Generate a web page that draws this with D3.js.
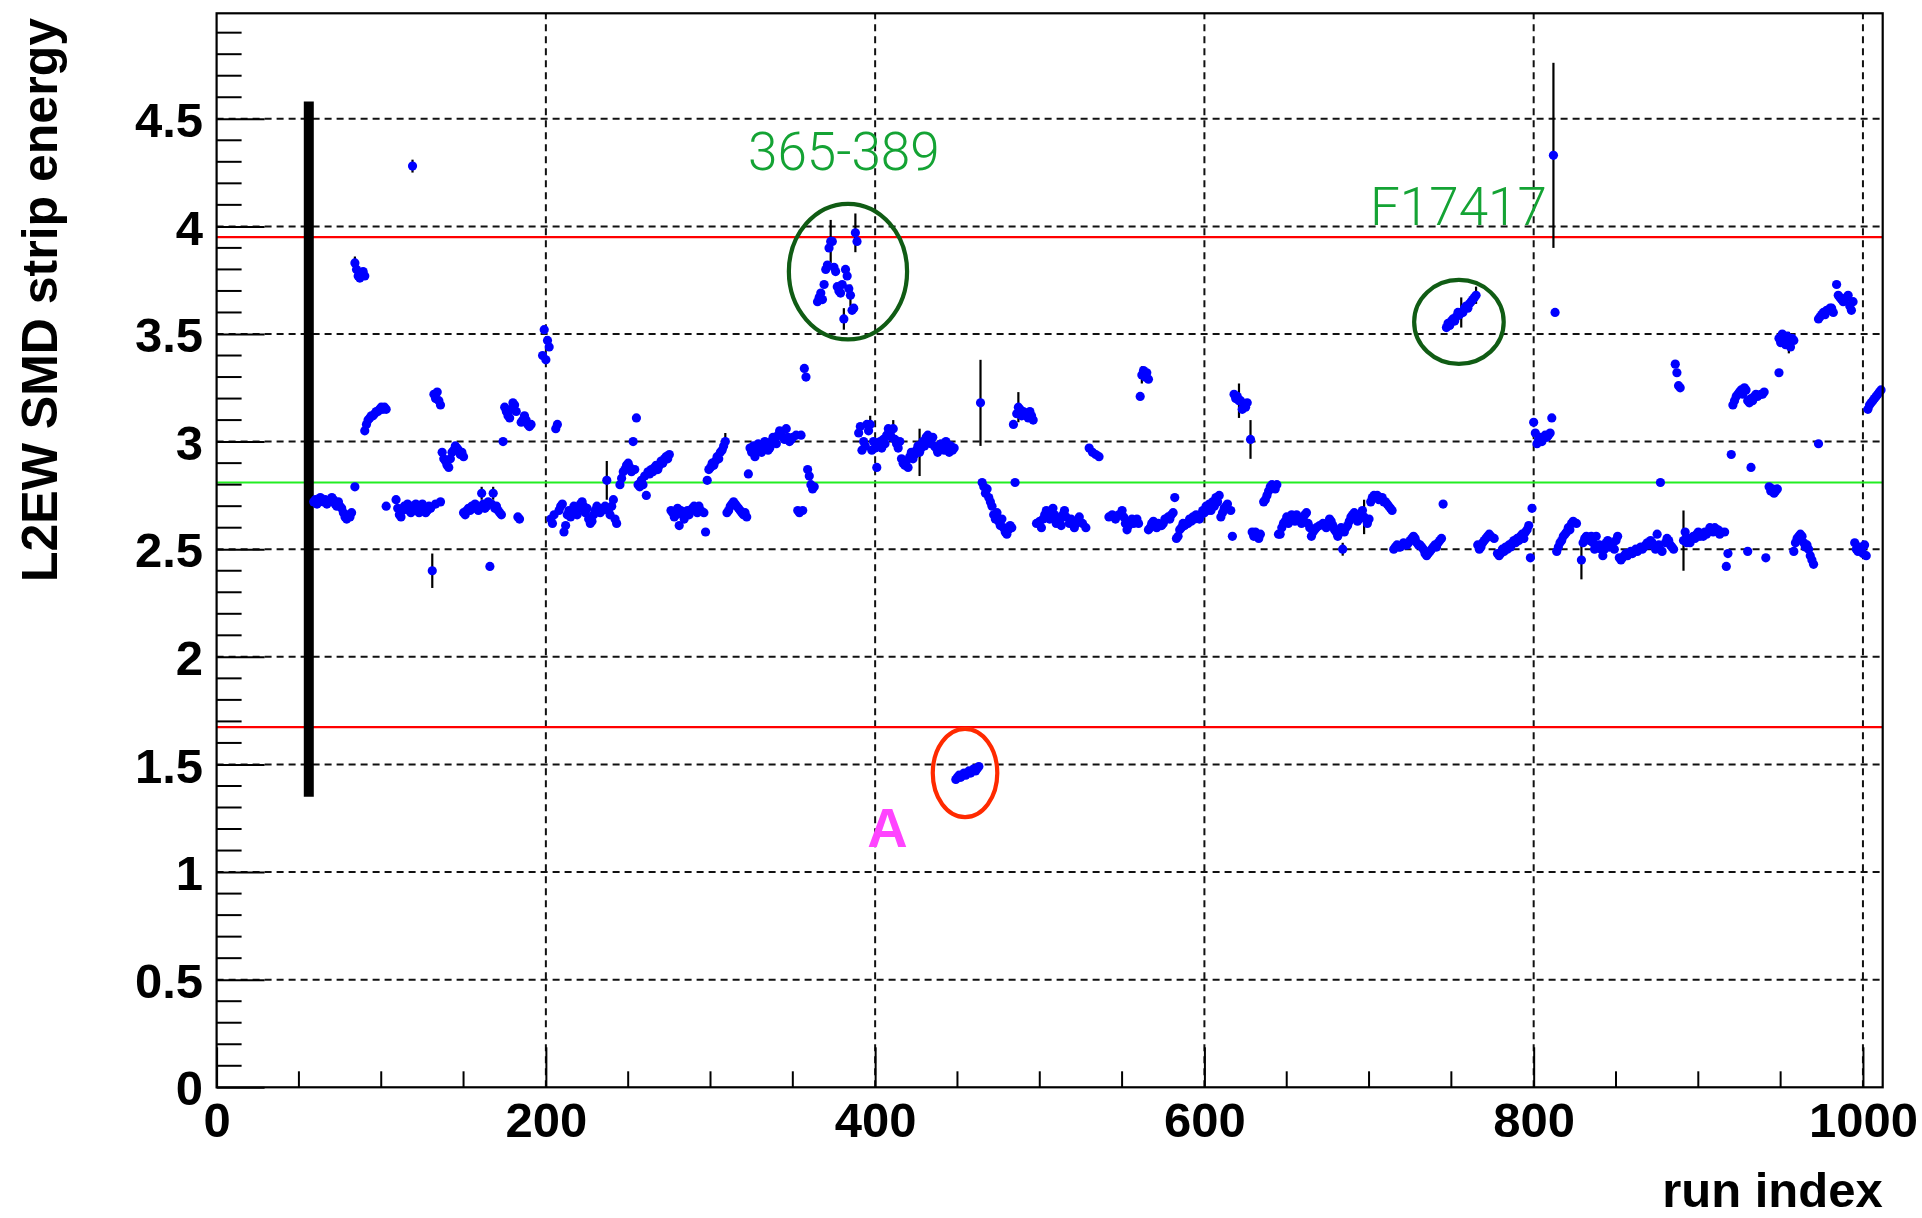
<!DOCTYPE html>
<html><head><meta charset="utf-8">
<script src="https://cdn.jsdelivr.net/npm/d3@7"></script>
<style>body{margin:0;background:#fff}svg{display:block}</style>
</head><body>
<script>
// ---------- data ----------
const xMajorTicks = [0, 200, 400, 600, 800, 1000];
const yMajorTicks = [0, 0.5, 1, 1.5, 2, 2.5, 3, 3.5, 4, 4.5];
const xTitle = "run index";
const yTitle = "L2EW SMD strip energy";

// [run index, energy]
const points = [
[59,2.72],[60,2.73],[61,2.71],[62,2.72],[63,2.74],[64,2.73],[65,2.72],[66,2.73],[67,2.71],[68,2.72],[70,2.74],[71,2.73],[72,2.71],[73,2.70],[74,2.72],[75,2.70],[76,2.69],[77,2.67],[78,2.65],[79,2.64],[80,2.66],[81,2.65],[82,2.67],[84,2.79],
[85,3.80],[86,3.77],[87,3.76],[88,3.78],[89,3.79],[90,3.77],
[90,3.05],[91,3.08],[92,3.10],[93,3.11],[94,3.12],[95,3.12],[96,3.13],[97,3.14],[98,3.14],[99,3.15],[100,3.16],[101,3.15],[102,3.16],[103,3.15],
[103,2.70],
[109,2.73],[110,2.69],[111,2.66],[112,2.65],[113,2.68],[114,2.70],[115,2.69],[116,2.71],[117,2.68],[118,2.67],[119,2.70],[120,2.69],[121,2.71],[122,2.68],[123,2.67],[124,2.70],[125,2.71],[126,2.69],[127,2.67],[128,2.68],[129,2.70],[130,2.69],[133,2.71],[136,2.72],
[132,3.22],[133,3.20],[134,3.23],[135,3.19],[136,3.17],
[137,2.95],[138,2.92],[139,2.91],[140,2.89],[141,2.88],[142,2.92],[143,2.95],[144,2.96],[145,2.98],[146,2.97],[147,2.96],[148,2.94],[149,2.95],[150,2.93],
[150,2.67],[151,2.66],[152,2.68],[153,2.69],[154,2.68],[155,2.70],[156,2.69],[157,2.71],[158,2.70],[159,2.68],[160,2.69],[162,2.71],[163,2.69],[164,2.70],[165,2.72],[166,2.42],[167,2.71],[169,2.69],[170,2.70],[171,2.68],[172,2.67],[173,2.66],
[174,3.00],[175,3.16],[176,3.14],[177,3.12],[178,3.11],[179,3.15],[180,3.18],[181,3.17],[182,3.14],[185,3.09],[186,3.10],[187,3.12],[188,3.10],[189,3.08],[190,3.07],[191,3.08],
[183,2.65],[184,2.64],
[198,3.40],[199,3.52],[200,3.38],[201,3.47],[202,3.44],
[206,3.06],[207,3.08],
[203,2.64],[204,2.62],[205,2.66],[208,2.68],[209,2.70],[210,2.71],[211,2.58],[212,2.61],[213,2.66],[214,2.68],[215,2.65],[216,2.67],[217,2.70],[218,2.68],[219,2.66],[220,2.69],[221,2.71],[222,2.72],[223,2.70],[224,2.67],[225,2.69],[226,2.64],[227,2.62],[228,2.63],[229,2.66],[230,2.68],[231,2.70],[232,2.69],[233,2.67],[234,2.68],[235,2.69],[236,2.70],[238,2.68],[239,2.66],[240,2.70],[241,2.73],[242,2.64],[243,2.62],
[245,2.80],[246,2.83],[247,2.86],[248,2.87],[249,2.89],[250,2.90],[251,2.88],[252,2.86],[253,3.00],[254,2.87],[255,3.11],[256,2.80],[257,2.79],
[258,2.82],[259,2.80],[260,2.84],[261,2.75],[262,2.86],[263,2.85],[264,2.87],[265,2.86],[266,2.88],[267,2.89],[268,2.87],[269,2.89],[270,2.91],[271,2.90],[272,2.92],[273,2.93],[274,2.92],[275,2.94],
[276,2.68],[277,2.67],[278,2.65],[279,2.66],[280,2.69],[281,2.61],[282,2.68],[283,2.66],[284,2.64],[285,2.67],[286,2.68],[287,2.66],[288,2.68],[289,2.69],[290,2.70],[291,2.69],[292,2.67],[293,2.70],[294,2.68],[296,2.67],[297,2.58],
[298,2.82],[299,2.87],[300,2.88],[301,2.90],[302,2.89],[303,2.91],[304,2.93],[305,2.92],[306,2.95],[307,2.96],[308,2.98],
[310,2.67],[311,2.68],[312,2.70],[313,2.71],[314,2.72],[315,2.71],[316,2.70],[317,2.69],[318,2.68],[319,2.67],[320,2.66],[321,2.67],[322,2.65],
[323,2.85],
[324,2.97],[325,2.95],[326,2.98],[327,2.93],[328,2.96],[329,2.99],[330,2.97],[331,2.95],[332,2.98],[333,3.00],[334,2.99],[335,2.96],[336,2.97],[337,3.00],[338,3.02],[339,3.01],[340,2.99],[341,3.03],[342,3.05],[343,3.04],[344,3.02],[345,3.01],[346,3.06],[347,3.02],[348,3.00],[349,3.01],[350,3.02],[352,3.03],[355,3.03],
[353,2.68],[354,2.67],[356,2.68],
[357,3.34],[358,3.30],
[359,2.87],[360,2.84],[361,2.80],[362,2.78],[363,2.79],
[365,3.65],[366,3.67],[367,3.69],[368,3.66],[369,3.73],[370,3.80],[371,3.82],[372,3.90],[374,3.93],[375,3.81],[376,3.79],[377,3.72],[378,3.70],[379,3.69],[380,3.73],[382,3.80],[383,3.77],[384,3.71],[386,3.61],[387,3.62],[389,3.93],
[390,3.04],[391,3.07],[392,2.96],[393,3.00],[394,2.98],[395,3.08],[396,3.05],[398,2.96],[399,3.00],[400,2.97],[401,2.88],[402,2.98],[403,3.00],[404,2.97],[405,3.01],[406,2.99],[407,3.03],[408,3.06],[409,3.04],[410,3.02],[412,3.01],[413,2.99],[414,2.97],[415,3.00],
[416,2.92],[417,2.90],[418,2.89],[419,2.91],[420,2.88],[421,2.93],[422,2.95],[423,2.92],[424,2.94],[425,2.96],[426,2.98],[428,2.97],[429,3.00],[430,2.98],[431,3.02],[432,3.03],[433,3.01],[434,2.99],[435,3.02],[436,2.98],[437,2.97],[438,2.95],[439,2.97],[440,2.99],[441,2.98],[442,2.96],[443,3.00],[444,2.97],[445,2.95],[446,2.98],[447,2.96],[448,2.97],
[449,1.43],[450,1.44],[451,1.45],[452,1.44],[453,1.45],[454,1.46],[455,1.45],[456,1.46],[457,1.47],[458,1.46],[459,1.47],[460,1.48],[461,1.47],[462,1.48],[463,1.49],
[465,2.81],[466,2.79],[467,2.76],[468,2.78],[469,2.74],[470,2.72],[471,2.70],[472,2.66],[473,2.64],[474,2.67],[475,2.63],[476,2.61],[477,2.64],[478,2.60],[479,2.58],[480,2.57],[481,2.59],[482,2.61],[483,2.60],
[485,2.81],
[484,3.08],[486,3.13],[488,3.15],[489,3.12],[490,3.14],[491,3.13],[492,3.12],[493,3.11],[494,3.14],[495,3.12],[496,3.10],
[498,2.62],[500,2.63],[501,2.60],[502,2.64],[503,2.66],[504,2.68],[505,2.65],[506,2.64],[507,2.67],[508,2.69],[509,2.66],[510,2.62],[511,2.64],[512,2.63],[513,2.61],[514,2.66],[515,2.68],[516,2.65],[518,2.62],[519,2.64],[520,2.63],[521,2.60],[522,2.62],[524,2.65],[526,2.62],[528,2.60],
[530,2.97],[532,2.95],[534,2.94],[536,2.93],
[542,2.65],[544,2.66],[546,2.64],[548,2.66],[550,2.68],[551,2.65],[552,2.62],[553,2.59],[554,2.61],[555,2.63],[556,2.64],[557,2.62],[558,2.63],[559,2.64],[560,2.62],
[561,3.21],[563,3.33],[564,3.30],[565,3.32],[566,3.29],
[566,2.59],[567,2.60],[568,2.62],[569,2.63],[570,2.61],[571,2.60],[572,2.62],[573,2.61],[574,2.61],[575,2.62],[576,2.64],[577,2.64],[578,2.65],[579,2.64],[580,2.66],[581,2.67],
[582,2.74],
[583,2.55],[584,2.56],[585,2.59],[586,2.60],[587,2.62],[588,2.61],[589,2.62],[590,2.62],[591,2.64],[592,2.63],[593,2.65],[594,2.64],[595,2.66],[596,2.65],[597,2.64],[598,2.66],[599,2.68],[600,2.67],[601,2.70],[602,2.68],[603,2.71],[604,2.68],[605,2.72],[606,2.70],[607,2.74],[608,2.72],[609,2.75],[610,2.65],[611,2.67],[612,2.69],[613,2.70],[614,2.71],[616,2.68],[617,2.56],
[618,3.22],[619,3.20],[620,3.21],[622,3.19],[623,3.15],[624,3.17],[625,3.16],[626,3.18],
[629,2.58],[630,2.56],[631,2.58],[633,2.55],[634,2.57],
[636,2.72],[637,2.73],[638,2.75],[639,2.77],[640,2.79],[641,2.80],[642,2.79],[643,2.78],[644,2.80],
[645,2.57],[646,2.57],[647,2.60],[648,2.62],[649,2.63],[650,2.65],[651,2.62],[652,2.64],[653,2.66],[654,2.65],[655,2.63],[656,2.66],[657,2.65],[658,2.64],[659,2.62],[660,2.64],[661,2.66],[662,2.67],[663,2.62],[664,2.60],[665,2.56],[666,2.58],[667,2.59],[668,2.60],[670,2.61],[672,2.62],
[674,2.60],[675,2.62],[676,2.64],[677,2.63],[678,2.61],[679,2.59],[680,2.58],[681,2.56],[682,2.58],[683,2.60],[685,2.58],[686,2.60],[687,2.61],[688,2.63],[689,2.65],[690,2.66],[691,2.67],[692,2.65],[693,2.63],[694,2.64],[695,2.66],[696,2.68],[698,2.64],[699,2.62],[700,2.64],
[701,2.72],[702,2.74],[703,2.75],[704,2.74],[705,2.75],[706,2.73],[707,2.74],[708,2.74],[709,2.72],[710,2.72],[711,2.71],[712,2.70],[713,2.69],[714,2.68],
[715,2.50],[716,2.51],[717,2.52],[718,2.51],[719,2.51],[720,2.52],[721,2.53],[722,2.52],[723,2.52],[724,2.53],[725,2.54],[726,2.55],[727,2.56],[728,2.55],[729,2.53],[730,2.52],[731,2.52],[732,2.51],[733,2.50],[734,2.48],[735,2.47],[736,2.48],[737,2.49],[738,2.50],[739,2.51],[740,2.52],[741,2.51],[742,2.53],[743,2.54],[744,2.55],[745,2.71],
[747,3.53],[748,3.55],[749,3.54],[750,3.56],[751,3.57],[752,3.56],[753,3.58],[754,3.60],[755,3.59],[757,3.60],[758,3.62],[759,3.63],[760,3.62],[761,3.64],[762,3.65],[763,3.66],[764,3.67],
[766,2.52],[767,2.50],[768,2.51],[769,2.53],[770,2.54],[771,2.55],[772,2.56],[773,2.57],[774,2.56],[776,2.55],[778,2.48],[779,2.47],[780,2.48],[781,2.50],[782,2.49],[783,2.51],[784,2.50],[785,2.52],[786,2.51],[787,2.53],[788,2.54],[789,2.53],[790,2.55],[791,2.54],[792,2.56],[793,2.57],[794,2.55],[795,2.58],[796,2.59],[797,2.61],[798,2.46],[799,2.69],
[800,3.09],[801,3.04],[802,2.99],[803,3.01],[804,3.02],[805,3.00],[806,3.02],[807,3.03],[808,3.02],[809,3.03],[810,3.04],[811,3.11],
[813,3.60],
[814,2.49],[815,2.51],[816,2.53],[817,2.54],[818,2.56],[819,2.57],[820,2.58],[821,2.60],[822,2.59],[823,2.62],[824,2.63],[826,2.62],
[830,2.53],[831,2.55],[832,2.56],[833,2.55],[834,2.54],[835,2.56],[836,2.53],[837,2.50],[838,2.56],[839,2.51],[840,2.52],[841,2.50],[842,2.47],[843,2.50],[844,2.53],[845,2.54],[846,2.51],[847,2.52],[848,2.53],[849,2.50],[850,2.54],[851,2.56],
[852,2.46],[853,2.45],[854,2.46],[855,2.47],[856,2.48],[857,2.47],[858,2.48],[859,2.49],[860,2.48],[861,2.49],[862,2.50],[863,2.49],[864,2.50],[865,2.51],[866,2.50],[867,2.51],[868,2.52],[869,2.53],[870,2.52],[871,2.54],[872,2.53],[874,2.50],[875,2.57],[876,2.52],[877,2.81],[878,2.49],[880,2.53],[881,2.55],[882,2.54],[883,2.52],[884,2.51],[885,2.50],
[886,3.36],[887,3.32],[888,3.26],[889,3.25],
[892,2.58],[893,2.53],[894,2.55],[895,2.53],[896,2.55],[897,2.56],[898,2.55],[899,2.57],[900,2.58],[901,2.56],[902,2.57],[903,2.56],[904,2.58],[905,2.57],[906,2.58],[907,2.60],[908,2.59],[909,2.58],[910,2.60],[911,2.59],[912,2.59],[913,2.57],[914,2.58],[916,2.58],
[917,2.42],[918,2.48],
[920,2.94],
[921,3.17],[922,3.19],[923,3.21],[924,3.22],[925,3.23],[926,3.24],[927,3.22],[928,3.25],[929,3.24],[930,3.19],[931,3.18],[932,3.20],[933,3.19],[934,3.21],[935,3.22],[936,3.21],[938,3.22],[939,3.22],[940,3.23],
[930,2.49],[932,2.88],[941,2.46],
[943,2.79],[944,2.77],[945,2.78],[946,2.76],[947,2.77],[948,2.78],
[949,3.32],
[949,3.48],[950,3.46],[951,3.50],[952,3.47],[953,3.45],[954,3.49],[956,3.44],[957,3.48],[958,3.47],
[958,2.49],[959,2.53],[960,2.55],[961,2.56],[962,2.57],[963,2.56],[964,2.53],[965,2.51],[966,2.52],[967,2.50],[968,2.47],[969,2.45],[970,2.43],
[973,2.99],
[973,3.57],[974,3.58],[975,3.59],[976,3.60],[977,3.59],[978,3.61],[979,3.61],[980,3.62],[981,3.62],[982,3.60],
[984,3.73],
[985,3.68],[986,3.67],[987,3.66],[988,3.65],[989,3.66],[990,3.67],[991,3.68],[992,3.63],[993,3.61],[994,3.65],
[995,2.53],[996,2.50],[997,2.49],[998,2.51],[999,2.50],[1000,2.48],[1001,2.52],[1002,2.47],
[1003,3.15],[1004,3.17],[1005,3.18],[1006,3.19],[1007,3.20],[1008,3.21],[1009,3.22],[1010,3.23],[1011,3.24]
];

// [run index, energy, error]
const errorPoints = [
[84,3.83,0.03],[119,4.28,0.03],[131,2.40,0.08],[161,2.76,0.03],[168,2.76,0.03],[237,2.82,0.09],
[309,3.00,0.04],[373,3.93,0.10],[381,3.57,0.05],[385,3.68,0.05],[388,3.97,0.09],[397,3.08,0.04],
[411,3.06,0.04],[427,2.95,0.11],[464,3.18,0.20],[487,3.16,0.07],[562,3.31,0.04],[621,3.19,0.08],
[628,3.01,0.09],[684,2.50,0.03],[697,2.65,0.08],[756,3.60,0.07],[765,3.68,0.04],[812,4.33,0.43],
[829,2.45,0.09],[891,2.54,0.14],[955,3.46,0.05]
];

// reference lines (energy)
const upperLimit = 3.95;
const meanLevel = 2.81;
const lowerLimit = 1.673;
// black marker bar: run index and energy span
const markerBar = [56, 1.35, 4.58];

// ---------- drawing ----------
const W = 1922, H = 1218;
const svg = d3.select("body").append("svg").attr("width", W).attr("height", H)
  .style("background", "#fff");

const x = d3.scaleLinear().domain([0, 1012]).range([216.6, 1882.7]);
const y = d3.scaleLinear().domain([0, 4.99]).range([1087.3, 13.3]);
const [x0, x1] = x.range();
const [y0, y1] = y.range();

const font = "'Liberation Sans', Arial, Helvetica, sans-serif";

// grid
const grid = svg.append("g").attr("stroke", "#111").attr("stroke-width", 2)
  .attr("stroke-dasharray", "7,5");
grid.selectAll(".gx").data(xMajorTicks.filter(d => d > 0)).join("line")
  .attr("x1", d => x(d)).attr("x2", d => x(d)).attr("y1", y0).attr("y2", y1);
grid.selectAll(".gy").data(yMajorTicks.filter(d => d > 0)).join("line")
  .attr("x1", x0).attr("x2", x1).attr("y1", d => y(d)).attr("y2", d => y(d));

// reference lines
const refs = svg.append("g").attr("stroke-width", 2.2);
refs.append("line").attr("x1", x0).attr("x2", x1).attr("y1", y(upperLimit)).attr("y2", y(upperLimit)).attr("stroke", "#ff0000");
refs.append("line").attr("x1", x0).attr("x2", x1).attr("y1", y(lowerLimit)).attr("y2", y(lowerLimit)).attr("stroke", "#ff0000");
refs.append("line").attr("x1", x0).attr("x2", x1).attr("y1", y(meanLevel)).attr("y2", y(meanLevel)).attr("stroke", "#22ee22");

// black marker bar
svg.append("line").attr("x1", x(markerBar[0])).attr("x2", x(markerBar[0]))
  .attr("y1", y(markerBar[1])).attr("y2", y(markerBar[2]))
  .attr("stroke", "#000").attr("stroke-width", 10);

// error bars
svg.append("g").attr("stroke", "#000").attr("stroke-width", 2.2)
  .selectAll("line").data(errorPoints).join("line")
  .attr("x1", d => x(d[0])).attr("x2", d => x(d[0]))
  .attr("y1", d => y(d[1] - d[2])).attr("y2", d => y(d[1] + d[2]));

// markers
const allPts = points.concat(errorPoints.map(d => [d[0], d[1]]));
svg.append("g").attr("fill", "#0000ff")
  .selectAll("circle").data(allPts).join("circle")
  .attr("cx", d => x(d[0])).attr("cy", d => y(d[1])).attr("r", 4.6);

// axes
const yMinor = d3.range(0, 4.95, 0.1).map(v => +v.toFixed(1)).filter(v => !yMajorTicks.some(m => Math.abs(m - v) < 1e-6));
const xMinor = d3.range(0, 1001, 50).filter(v => v % 200 !== 0);

const yAxis = svg.append("g").attr("transform", `translate(${x0},0)`)
  .call(d3.axisLeft(y).tickValues(yMajorTicks).tickSize(-48).tickPadding(13.5)
    .tickFormat(d3.format("~g")));
yAxis.select(".domain").remove();
yAxis.selectAll(".tick line").attr("stroke", "#000").attr("stroke-width", 2);
yAxis.selectAll(".tick text").attr("font-family", font).attr("font-weight", "bold")
  .attr("font-size", 49).attr("fill", "#000").attr("dy", "0.36em");
svg.append("g").selectAll("line").data(yMinor).join("line")
  .attr("x1", x0).attr("x2", x0 + 25).attr("y1", d => y(d)).attr("y2", d => y(d))
  .attr("stroke", "#000").attr("stroke-width", 2);

const xAxis = svg.append("g").attr("transform", `translate(0,${y0})`)
  .call(d3.axisBottom(x).tickValues(xMajorTicks).tickSize(-40).tickPadding(15)
    .tickFormat(d3.format("d")));
xAxis.select(".domain").remove();
xAxis.selectAll(".tick line").attr("stroke", "#000").attr("stroke-width", 2);
xAxis.selectAll(".tick text").attr("font-family", font).attr("font-weight", "bold")
  .attr("font-size", 49).attr("fill", "#000");
svg.append("g").selectAll("line").data(xMinor).join("line")
  .attr("x1", d => x(d)).attr("x2", d => x(d)).attr("y1", y0).attr("y2", y0 - 16)
  .attr("stroke", "#000").attr("stroke-width", 2);

// frame
svg.append("rect").attr("x", x0).attr("y", y1).attr("width", x1 - x0).attr("height", y0 - y1)
  .attr("fill", "none").attr("stroke", "#000").attr("stroke-width", 2.2);

// axis titles
svg.append("text").attr("x", x1).attr("y", 1207).attr("text-anchor", "end")
  .attr("font-family", font).attr("font-weight", "bold").attr("font-size", 49).text(xTitle);
svg.append("text").attr("transform", "translate(57,18) rotate(-90)").attr("text-anchor", "end")
  .attr("font-family", font).attr("font-weight", "bold").attr("font-size", 50).text(yTitle);

// annotations
const ann = svg.append("g").attr("fill", "none").attr("stroke-width", 4.2);
function ellipse(cx, cy, dxRuns, dyE, color) {
  ann.append("ellipse").attr("cx", x(cx)).attr("cy", y(cy))
    .attr("rx", x(cx + dxRuns) - x(cx)).attr("ry", y(cy) - y(cy + dyE)).attr("stroke", color);
}
ellipse(383.5, 3.79, 35.9, 0.315, "#105c14");
ellipse(754.6, 3.556, 27.2, 0.195, "#105c14");
ellipse(454.6, 1.46, 19.6, 0.205, "#ff2a00");

const lab = svg.append("g").attr("font-family", "Roboto, 'Liberation Sans', sans-serif").attr("text-anchor", "middle");
lab.append("text").attr("x", x(381)).attr("y", y(4.263)).attr("font-size", 53).attr("font-weight", 300)
  .attr("fill", "#14a334").text("365-389");
lab.append("text").attr("x", x(754.3)).attr("y", y(4.007)).attr("font-size", 53).attr("font-weight", 300)
  .attr("fill", "#14a334").text("F17417");
lab.append("text").attr("x", x(407.5)).attr("y", y(1.118)).attr("font-size", 56).attr("font-weight", "bold")
  .attr("font-family", font).attr("fill", "#ff44ff").text("A");
</script>
</body></html>
